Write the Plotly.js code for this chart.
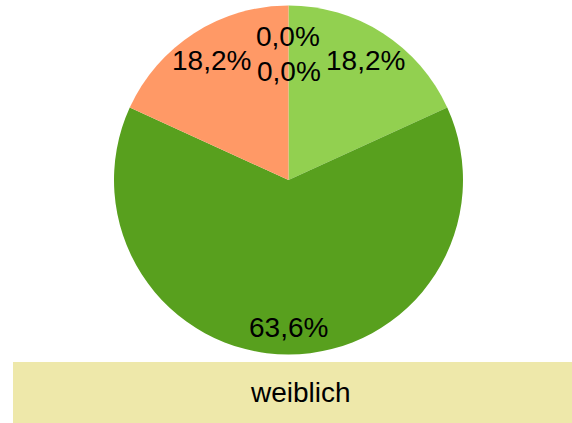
<!DOCTYPE html>
<html><head><meta charset="utf-8">
<script src="https://cdn.plot.ly/plotly-3.0.1.min.js"></script>
<style>html,body{margin:0;padding:0;background:#fff}</style>
</head><body>
<div id="chart" style="width:572px;height:423px"></div>
<script>
var categories = ["A", "B", "C", "D", "E"];
var values = [2, 7, 2, 0, 0];
var colors = ["#92D050", "#58A01E", "#FF9966", "#4F81BD", "#C0504D"];
var groupLabel = "weiblich";

var W = 572, H = 423, R = 174.5, cx = 288.5, cy = 180;
var labelRadius = [0.815, 0.843, 0.815, 0.825, 0.62];
var FONT = "Liberation Sans, Arial, sans-serif";

var trace = {
  type: "pie",
  labels: categories,
  values: values,
  sort: false,
  direction: "clockwise",
  rotation: 0,
  marker: {colors: colors, line: {width: 0}},
  textposition: "none",
  hoverinfo: "none",
  domain: {x: [(cx - R) / W, (cx + R) / W], y: [(H - cy - R) / H, (H - cy + R) / H]}
};

var total = values.reduce(function (a, b) { return a + b; }, 0);
var annotations = [];
var cum = 0;
values.forEach(function (v, i) {
  var mid = (cum + v / 2) / total * 2 * Math.PI;
  cum += v;
  var r = R * labelRadius[i];
  var px = cx + r * Math.sin(mid), py = cy - r * Math.cos(mid);
  annotations.push({
    xref: "paper", yref: "paper", x: px / W, y: (H - py) / H,
    xanchor: "center", yanchor: "middle", showarrow: false,
    text: (v / total * 100).toFixed(1).replace(".", ",") + "%",
    font: {family: FONT, size: 28, color: "#000"}
  });
});
annotations.push({xref: "paper", yref: "paper", x: 300 / W, y: (H - 392) / H,
  xanchor: "center", yanchor: "middle", text: groupLabel, showarrow: false,
  font: {family: FONT, size: 28, color: "#000"}});

var layout = {
  width: W, height: H,
  margin: {l: 0, r: 0, t: 0, b: 0},
  showlegend: false,
  separators: ",.",
  paper_bgcolor: "#fff",
  shapes: [{type: "rect", xref: "paper", yref: "paper", x0: 13 / W, x1: 1, y0: 0, y1: (H - 362) / H,
            fillcolor: "#EEE8AA", line: {width: 0}, layer: "below"}],
  annotations: annotations
};
Plotly.newPlot("chart", [trace], layout, {displayModeBar: false, staticPlot: true});
</script>
</body></html>
